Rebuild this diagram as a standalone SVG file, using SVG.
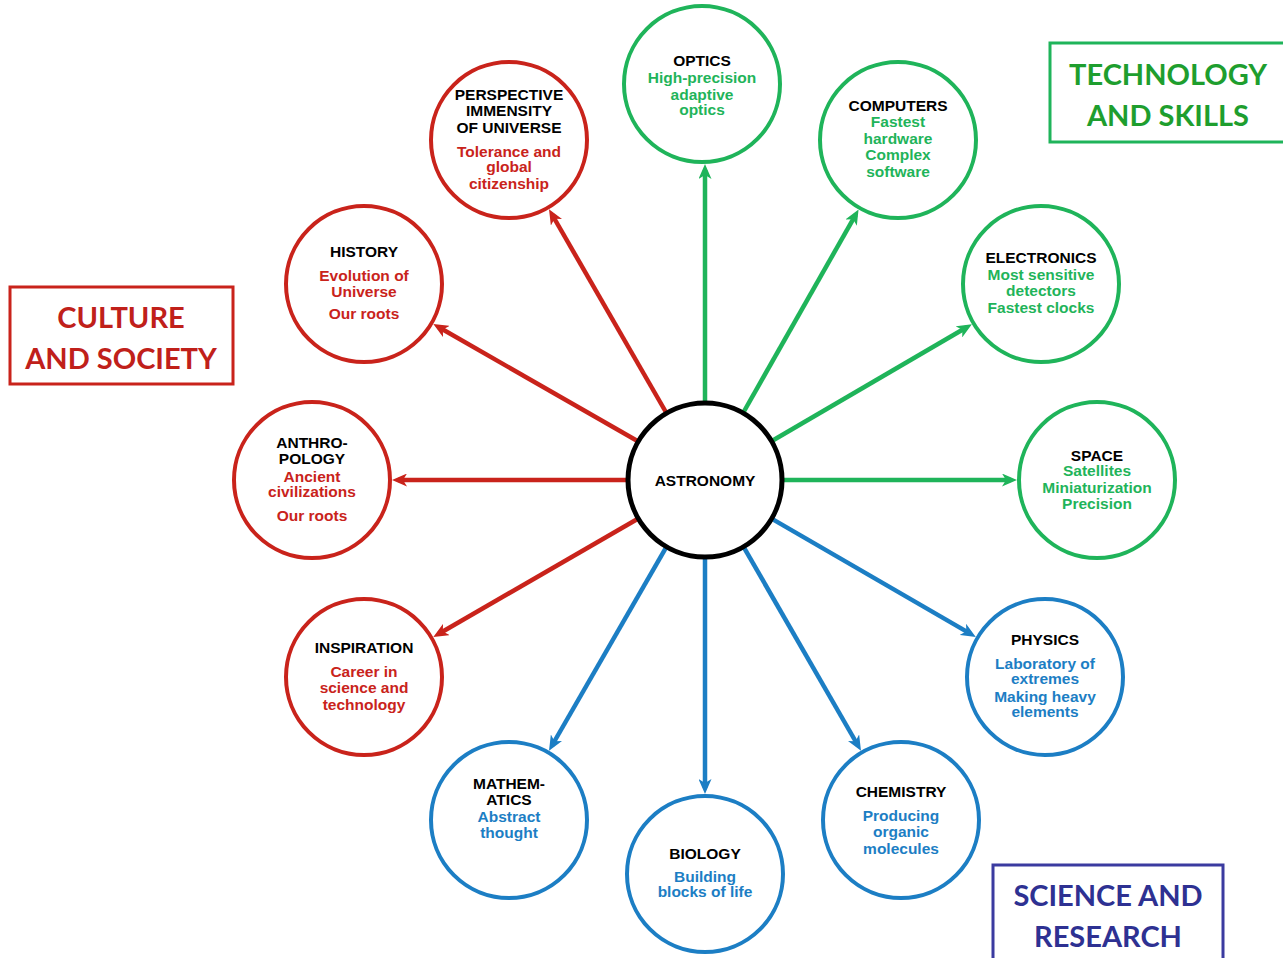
<svg xmlns="http://www.w3.org/2000/svg" width="1283" height="958" viewBox="0 0 1283 958">
<style>
.bg{fill:#ffffff}
.node{fill:#ffffff;stroke-width:4}
.red{stroke:#C9231B}
.green{stroke:#1FB45A}
.blue{stroke:#1C7EC4}
.center{fill:#ffffff;stroke:#000000;stroke-width:5}
.t{font-family:"Liberation Sans",Arial,sans-serif;font-weight:bold;font-size:15.5px;text-anchor:middle}
.h{fill:#000000}
.sr{fill:#C9231B}
.sg{fill:#1FB45A}
.sb{fill:#1C7EC4}
.conn line{stroke-width:4.5;fill:none}
.cat{font-family:Lato,"Open Sans",sans-serif;font-weight:bold;font-size:29px;text-anchor:middle}
</style>
<defs>
<marker id="ar" markerUnits="userSpaceOnUse" viewBox="0 0 15 13" refX="9" refY="6.5" markerWidth="15" markerHeight="13" orient="auto"><path d="M0,0 L15,6.5 L0,13 L4,6.5 z" fill="#C9231B"/></marker>
<marker id="ag" markerUnits="userSpaceOnUse" viewBox="0 0 15 13" refX="9" refY="6.5" markerWidth="15" markerHeight="13" orient="auto"><path d="M0,0 L15,6.5 L0,13 L4,6.5 z" fill="#1FB45A"/></marker>
<marker id="ab" markerUnits="userSpaceOnUse" viewBox="0 0 15 13" refX="9" refY="6.5" markerWidth="15" markerHeight="13" orient="auto"><path d="M0,0 L15,6.5 L0,13 L4,6.5 z" fill="#1C7EC4"/></marker>
</defs>
<rect class="bg" x="0" y="0" width="1283" height="958"/>

<g id="connectors" class="conn">
<line class="red" x1="667" y1="414" x2="552" y2="214.5" marker-end="url(#ar)"/>
<line class="green" x1="705" y1="404" x2="705" y2="170" marker-end="url(#ag)"/>
<line class="green" x1="742.5" y1="414" x2="855.6" y2="214.8" marker-end="url(#ag)"/>
<line class="green" x1="770.6" y1="441.7" x2="966.7" y2="327.3" marker-end="url(#ag)"/>
<line class="green" x1="781" y1="480" x2="1011" y2="480" marker-end="url(#ag)"/>
<line class="blue" x1="770.7" y1="518.1" x2="970.6" y2="633.9" marker-end="url(#ab)"/>
<line class="blue" x1="743" y1="545.9" x2="858" y2="745.5" marker-end="url(#ab)"/>
<line class="blue" x1="705" y1="556" x2="705" y2="788" marker-end="url(#ab)"/>
<line class="blue" x1="667" y1="545.9" x2="552" y2="745.5" marker-end="url(#ab)"/>
<line class="red" x1="639.2" y1="518" x2="438.5" y2="634" marker-end="url(#ar)"/>
<line class="red" x1="629" y1="480" x2="398" y2="480" marker-end="url(#ar)"/>
<line class="red" x1="639.2" y1="442" x2="438.5" y2="327" marker-end="url(#ar)"/>
</g>

<g id="astronomy">
<circle class="center" cx="705" cy="480" r="77"/>
<text class="t h" x="705" y="486">ASTRONOMY</text>
</g>

<g id="perspective">
<circle class="node red" cx="509" cy="140" r="78"/>
<text class="t h" x="509" y="100">PERSPECTIVE</text>
<text class="t h" x="509" y="116">IMMENSITY</text>
<text class="t h" x="509" y="133">OF UNIVERSE</text>
<text class="t sr" x="509" y="157">Tolerance and</text>
<text class="t sr" x="509" y="172">global</text>
<text class="t sr" x="509" y="189">citizenship</text>
</g>

<g id="optics">
<circle class="node green" cx="702" cy="84" r="78"/>
<text class="t h" x="702" y="66">OPTICS</text>
<text class="t sg" x="702" y="83">High-precision</text>
<text class="t sg" x="702" y="100">adaptive</text>
<text class="t sg" x="702" y="115">optics</text>
</g>

<g id="computers">
<circle class="node green" cx="898" cy="140" r="78"/>
<text class="t h" x="898" y="111">COMPUTERS</text>
<text class="t sg" x="898" y="127">Fastest</text>
<text class="t sg" x="898" y="144">hardware</text>
<text class="t sg" x="898" y="160">Complex</text>
<text class="t sg" x="898" y="177">software</text>
</g>

<g id="electronics">
<circle class="node green" cx="1041" cy="284" r="78"/>
<text class="t h" x="1041" y="263">ELECTRONICS</text>
<text class="t sg" x="1041" y="280">Most sensitive</text>
<text class="t sg" x="1041" y="296">detectors</text>
<text class="t sg" x="1041" y="313">Fastest clocks</text>
</g>

<g id="space">
<circle class="node green" cx="1097" cy="480" r="78"/>
<text class="t h" x="1097" y="461">SPACE</text>
<text class="t sg" x="1097" y="476">Satellites</text>
<text class="t sg" x="1097" y="493">Miniaturization</text>
<text class="t sg" x="1097" y="509">Precision</text>
</g>

<g id="physics">
<circle class="node blue" cx="1045" cy="677" r="78"/>
<text class="t h" x="1045" y="645">PHYSICS</text>
<text class="t sb" x="1045" y="669">Laboratory of</text>
<text class="t sb" x="1045" y="684">extremes</text>
<text class="t sb" x="1045" y="702">Making heavy</text>
<text class="t sb" x="1045" y="717">elements</text>
</g>

<g id="chemistry">
<circle class="node blue" cx="901" cy="820" r="78"/>
<text class="t h" x="901" y="797">CHEMISTRY</text>
<text class="t sb" x="901" y="821">Producing</text>
<text class="t sb" x="901" y="837">organic</text>
<text class="t sb" x="901" y="854">molecules</text>
</g>

<g id="biology">
<circle class="node blue" cx="705" cy="874" r="78"/>
<text class="t h" x="705" y="859">BIOLOGY</text>
<text class="t sb" x="705" y="882">Building</text>
<text class="t sb" x="705" y="897">blocks of life</text>
</g>

<g id="mathematics">
<circle class="node blue" cx="509" cy="820" r="78"/>
<text class="t h" x="509" y="789">MATHEM-</text>
<text class="t h" x="509" y="805">ATICS</text>
<text class="t sb" x="509" y="822">Abstract</text>
<text class="t sb" x="509" y="838">thought</text>
</g>

<g id="inspiration">
<circle class="node red" cx="364" cy="677" r="78"/>
<text class="t h" x="364" y="653">INSPIRATION</text>
<text class="t sr" x="364" y="677">Career in</text>
<text class="t sr" x="364" y="693">science and</text>
<text class="t sr" x="364" y="710">technology</text>
</g>

<g id="anthropology">
<circle class="node red" cx="312" cy="480" r="78"/>
<text class="t h" x="312" y="448">ANTHRO-</text>
<text class="t h" x="312" y="464">POLOGY</text>
<text class="t sr" x="312" y="482">Ancient</text>
<text class="t sr" x="312" y="497">civilizations</text>
<text class="t sr" x="312" y="521">Our roots</text>
</g>

<g id="history">
<circle class="node red" cx="364" cy="284" r="78"/>
<text class="t h" x="364" y="257">HISTORY</text>
<text class="t sr" x="364" y="281">Evolution of</text>
<text class="t sr" x="364" y="297">Universe</text>
<text class="t sr" x="364" y="319">Our roots</text>
</g>

<g id="culture-and-society">
<rect x="10" y="287" width="223" height="97" fill="none" stroke="#C9231B" stroke-width="3"/>
<text class="cat" x="121" y="328" fill="#C0201A">CULTURE</text>
<text class="cat" x="121" y="369" fill="#C0201A">AND SOCIETY</text>
</g>

<g id="technology-and-skills">
<rect x="1050" y="43" width="240" height="99" fill="none" stroke="#1FB45A" stroke-width="3"/>
<text class="cat" x="1168" y="85" fill="#1E9E2E">TECHNOLOGY</text>
<text class="cat" x="1168" y="126" fill="#1E9E2E">AND SKILLS</text>
</g>

<g id="science-and-research">
<rect x="993" y="865" width="230" height="110" fill="none" stroke="#3B3BA0" stroke-width="3"/>
<text class="cat" x="1108" y="906" fill="#2E3192">SCIENCE AND</text>
<text class="cat" x="1108" y="947" fill="#2E3192">RESEARCH</text>
</g>
</svg>
